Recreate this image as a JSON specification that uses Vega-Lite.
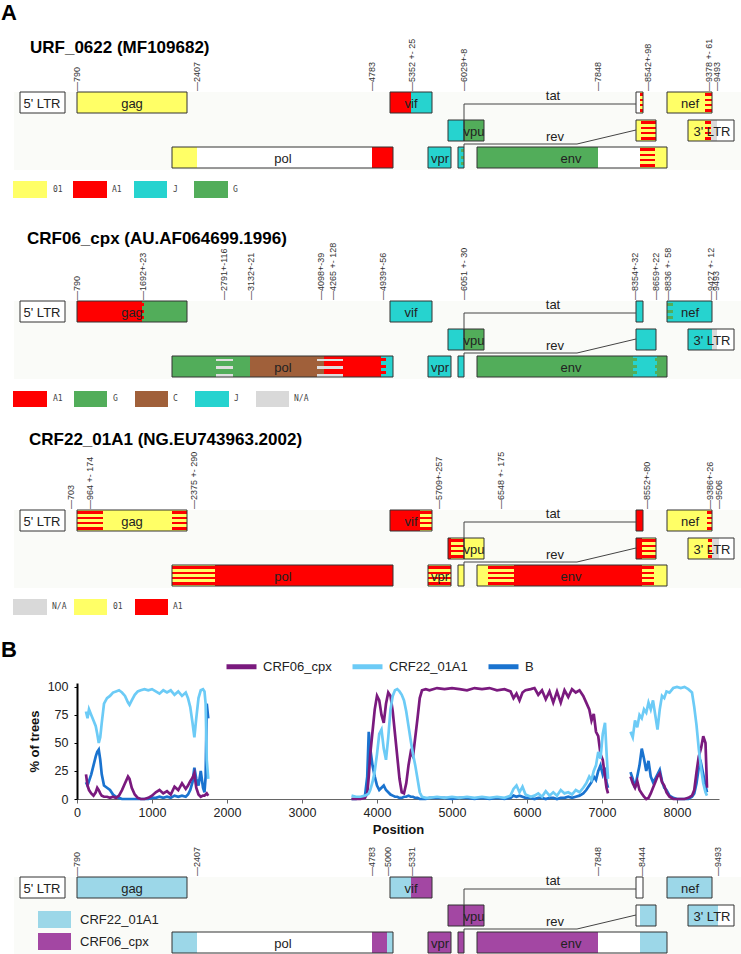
{
"$schema":"https://vega.github.io/schema/vega-lite/v6.json",
"width":741,"height":954,"padding":0,"autosize":{"type":"none"},
"background":"#ffffff",
"config":{"view":{"stroke":null},"font":"Liberation Sans"},
"datasets":{
"tracks":[
{"t":"1a","y1":92,"y2":113,"ym":102.5},{"t":"1b","y1":120,"y2":141,"ym":130.5},{"t":"1c","y1":147,"y2":168,"ym":157.5},{"t":"1L","y1":181,"y2":198,"ym":189.5},{"t":"1bg","y1":92,"y2":170,"ym":131},
{"t":"2a","y1":301,"y2":322,"ym":311.5},{"t":"2b","y1":329,"y2":350,"ym":339.5},{"t":"2c","y1":356,"y2":377,"ym":366.5},{"t":"2L","y1":391,"y2":407,"ym":399},{"t":"2bg","y1":301,"y2":379,"ym":340},
{"t":"3a","y1":510,"y2":531,"ym":520.5},{"t":"3b","y1":538,"y2":559,"ym":548.5},{"t":"3c","y1":565,"y2":586,"ym":575.5},{"t":"3L","y1":599,"y2":615,"ym":607},{"t":"3bg","y1":510,"y2":588,"ym":549},
{"t":"4a","y1":877,"y2":898,"ym":887.5},{"t":"4b","y1":905,"y2":926,"ym":915.5},{"t":"4c","y1":932,"y2":953,"ym":942.5},{"t":"4L1","y1":911,"y2":928,"ym":919.5},{"t":"4L2","y1":933,"y2":950,"ym":941.5},{"t":"4bg","y1":877,"y2":954,"ym":915}
],
"segs":[
{"t":"1bg","x1":14,"x2":741,"c":"BG"},{"t":"2bg","x1":14,"x2":741,"c":"BG"},{"t":"3bg","x1":14,"x2":741,"c":"BG"},{"t":"4bg","x1":14,"x2":741,"c":"BG"},
{"t":"1a","x1":20,"x2":65,"c":"W"},{"t":"1a","x1":77,"x2":187,"c":"Y"},{"t":"1c","x1":172,"x2":197,"c":"Y"},{"t":"1c","x1":197,"x2":372,"c":"W"},{"t":"1c","x1":372,"x2":393,"c":"R"},
{"t":"1a","x1":390,"x2":411,"c":"R"},{"t":"1a","x1":411,"x2":432,"c":"C"},{"t":"1c","x1":428,"x2":451,"c":"C"},{"t":"1b","x1":448,"x2":464,"c":"C"},{"t":"1b","x1":464,"x2":484,"c":"G"},
{"t":"1c","x1":458,"x2":464,"c":"C"},{"t":"1c","x1":477,"x2":598,"c":"G"},{"t":"1c","x1":598,"x2":640,"c":"W"},{"t":"1c","x1":655,"x2":667,"c":"Y"},{"t":"1a","x1":636,"x2":640,"c":"W"},
{"t":"1b","x1":636,"x2":641,"c":"Y"},{"t":"1a","x1":667,"x2":705,"c":"Y"},{"t":"1b","x1":688,"x2":705,"c":"Y"},{"t":"1b","x1":711,"x2":717,"c":"N"},{"t":"1b","x1":717,"x2":734,"c":"W"},
{"t":"2a","x1":20,"x2":65,"c":"W"},{"t":"2a","x1":77,"x2":142,"c":"R"},{"t":"2a","x1":142,"x2":187,"c":"G"},{"t":"2c","x1":172,"x2":250,"c":"G"},{"t":"2c","x1":250,"x2":324,"c":"Br"},
{"t":"2c","x1":324,"x2":381,"c":"R"},{"t":"2c","x1":381,"x2":393,"c":"C"},{"t":"2a","x1":390,"x2":432,"c":"C"},{"t":"2c","x1":428,"x2":451,"c":"C"},{"t":"2b","x1":448,"x2":464,"c":"C"},
{"t":"2b","x1":464,"x2":484,"c":"G"},{"t":"2c","x1":458,"x2":464,"c":"C"},{"t":"2c","x1":477,"x2":633,"c":"G"},{"t":"2c","x1":633,"x2":657,"c":"C"},{"t":"2c","x1":657,"x2":667,"c":"G"},
{"t":"2a","x1":636,"x2":643,"c":"C"},{"t":"2b","x1":636,"x2":656,"c":"C"},{"t":"2a","x1":667,"x2":712,"c":"C"},{"t":"2b","x1":688,"x2":712,"c":"C"},{"t":"2b","x1":712,"x2":717,"c":"N"},{"t":"2b","x1":717,"x2":734,"c":"W"},
{"t":"3a","x1":20,"x2":65,"c":"W"},{"t":"3a","x1":103,"x2":172,"c":"Y"},{"t":"3c","x1":215,"x2":393,"c":"R"},{"t":"3a","x1":390,"x2":420,"c":"R"},{"t":"3b","x1":448,"x2":451,"c":"R"},
{"t":"3b","x1":464,"x2":484,"c":"Y"},{"t":"3c","x1":458,"x2":464,"c":"Y"},{"t":"3c","x1":477,"x2":488,"c":"Y"},{"t":"3c","x1":514,"x2":642,"c":"R"},{"t":"3c","x1":654,"x2":667,"c":"Y"},
{"t":"3a","x1":636,"x2":643,"c":"R"},{"t":"3b","x1":636,"x2":642,"c":"R"},{"t":"3a","x1":667,"x2":707,"c":"Y"},{"t":"3b","x1":688,"x2":708,"c":"Y"},{"t":"3b","x1":712,"x2":719,"c":"N"},{"t":"3b","x1":719,"x2":734,"c":"W"},
{"t":"4a","x1":20,"x2":65,"c":"W"},{"t":"4a","x1":77,"x2":187,"c":"L"},{"t":"4c","x1":172,"x2":197,"c":"L"},{"t":"4c","x1":197,"x2":372,"c":"W"},{"t":"4c","x1":372,"x2":387,"c":"P"},
{"t":"4c","x1":387,"x2":393,"c":"L"},{"t":"4a","x1":390,"x2":411,"c":"L"},{"t":"4a","x1":411,"x2":432,"c":"P"},{"t":"4c","x1":428,"x2":451,"c":"P"},{"t":"4b","x1":448,"x2":464,"c":"P"},
{"t":"4b","x1":464,"x2":484,"c":"P"},{"t":"4c","x1":458,"x2":464,"c":"P"},{"t":"4c","x1":477,"x2":598,"c":"P"},{"t":"4c","x1":598,"x2":640,"c":"W"},{"t":"4c","x1":640,"x2":667,"c":"L"},
{"t":"4a","x1":636,"x2":643,"c":"W"},{"t":"4b","x1":636,"x2":640,"c":"W"},{"t":"4b","x1":640,"x2":656,"c":"L"},{"t":"4a","x1":667,"x2":712,"c":"L"},{"t":"4b","x1":688,"x2":718,"c":"L"},{"t":"4b","x1":718,"x2":734,"c":"W"}
],
"stripes":[
{"t":"1c","x1":640,"x2":655,"p":"ry"},{"t":"1a","x1":640,"x2":643,"p":"ry"},{"t":"1b","x1":641,"x2":656,"p":"ry"},{"t":"1a","x1":705,"x2":712,"p":"ry"},{"t":"1b","x1":705,"x2":711,"p":"ry"},{"t":"1c","x1":461,"x2":464,"p":"gd"},
{"t":"2c","x1":216,"x2":233,"p":"gray"},{"t":"2c","x1":317,"x2":343,"p":"gray"},{"t":"2c","x1":378,"x2":386,"p":"rd"},{"t":"2c","x1":632,"x2":637,"p":"gd"},{"t":"2c","x1":655,"x2":661,"p":"gd"},{"t":"2a","x1":667,"x2":673,"p":"gd"},{"t":"2a","x1":140,"x2":144,"p":"rd"},
{"t":"3a","x1":77,"x2":103,"p":"ry"},{"t":"3a","x1":172,"x2":187,"p":"ry"},{"t":"3c","x1":172,"x2":215,"p":"ry"},{"t":"3a","x1":420,"x2":432,"p":"ry"},{"t":"3c","x1":428,"x2":451,"p":"ry"},{"t":"3b","x1":451,"x2":464,"p":"ry"},
{"t":"3c","x1":488,"x2":514,"p":"ry"},{"t":"3c","x1":642,"x2":654,"p":"ry"},{"t":"3b","x1":642,"x2":656,"p":"ry"},{"t":"3a","x1":707,"x2":712,"p":"ry"},{"t":"3b","x1":708,"x2":712,"p":"ry"}
],
"genes":[
{"t":"1a","x1":20,"x2":65},{"t":"1a","x1":77,"x2":187},{"t":"1c","x1":172,"x2":393},{"t":"1a","x1":390,"x2":432},{"t":"1c","x1":428,"x2":451},{"t":"1b","x1":448,"x2":464},{"t":"1b","x1":464,"x2":484},{"t":"1c","x1":458,"x2":464},{"t":"1c","x1":477,"x2":667},{"t":"1a","x1":636,"x2":643},{"t":"1b","x1":636,"x2":656},{"t":"1a","x1":667,"x2":712},{"t":"1b","x1":688,"x2":734},
{"t":"2a","x1":20,"x2":65},{"t":"2a","x1":77,"x2":187},{"t":"2c","x1":172,"x2":393},{"t":"2a","x1":390,"x2":432},{"t":"2c","x1":428,"x2":451},{"t":"2b","x1":448,"x2":464},{"t":"2b","x1":464,"x2":484},{"t":"2c","x1":458,"x2":464},{"t":"2c","x1":477,"x2":667},{"t":"2a","x1":636,"x2":643},{"t":"2b","x1":636,"x2":656},{"t":"2a","x1":667,"x2":712},{"t":"2b","x1":688,"x2":734},
{"t":"3a","x1":20,"x2":65},{"t":"3a","x1":77,"x2":187},{"t":"3c","x1":172,"x2":393},{"t":"3a","x1":390,"x2":432},{"t":"3c","x1":428,"x2":451},{"t":"3b","x1":448,"x2":464},{"t":"3b","x1":464,"x2":484},{"t":"3c","x1":458,"x2":464},{"t":"3c","x1":477,"x2":667},{"t":"3a","x1":636,"x2":643},{"t":"3b","x1":636,"x2":656},{"t":"3a","x1":667,"x2":712},{"t":"3b","x1":688,"x2":734},
{"t":"4a","x1":20,"x2":65},{"t":"4a","x1":77,"x2":187},{"t":"4c","x1":172,"x2":393},{"t":"4a","x1":390,"x2":432},{"t":"4c","x1":428,"x2":451},{"t":"4b","x1":448,"x2":464},{"t":"4b","x1":464,"x2":484},{"t":"4c","x1":458,"x2":464},{"t":"4c","x1":477,"x2":667},{"t":"4a","x1":636,"x2":643},{"t":"4b","x1":636,"x2":656},{"t":"4a","x1":667,"x2":712},{"t":"4b","x1":688,"x2":734}
],
"glabels":[
{"t":"1a","x1":42,"label":"5' LTR"},{"t":"1a","x1":132,"label":"gag"},{"t":"1c","x1":283,"label":"pol"},{"t":"1a","x1":411,"label":"vif"},{"t":"1c","x1":440,"label":"vpr"},{"t":"1b","x1":474,"label":"vpu"},{"t":"1c","x1":571,"label":"env"},{"t":"1a","x1":690,"label":"nef"},{"t":"1b","x1":712,"label":"3' LTR"},
{"t":"2a","x1":42,"label":"5' LTR"},{"t":"2a","x1":132,"label":"gag"},{"t":"2c","x1":283,"label":"pol"},{"t":"2a","x1":411,"label":"vif"},{"t":"2c","x1":440,"label":"vpr"},{"t":"2b","x1":474,"label":"vpu"},{"t":"2c","x1":571,"label":"env"},{"t":"2a","x1":690,"label":"nef"},{"t":"2b","x1":712,"label":"3' LTR"},
{"t":"3a","x1":42,"label":"5' LTR"},{"t":"3a","x1":132,"label":"gag"},{"t":"3c","x1":283,"label":"pol"},{"t":"3a","x1":411,"label":"vif"},{"t":"3c","x1":440,"label":"vpr"},{"t":"3b","x1":474,"label":"vpu"},{"t":"3c","x1":571,"label":"env"},{"t":"3a","x1":690,"label":"nef"},{"t":"3b","x1":712,"label":"3' LTR"},
{"t":"4a","x1":42,"label":"5' LTR"},{"t":"4a","x1":132,"label":"gag"},{"t":"4c","x1":283,"label":"pol"},{"t":"4a","x1":411,"label":"vif"},{"t":"4c","x1":440,"label":"vpr"},{"t":"4b","x1":474,"label":"vpu"},{"t":"4c","x1":571,"label":"env"},{"t":"4a","x1":690,"label":"nef"},{"t":"4b","x1":712,"label":"3' LTR"}
],
"annot":[
{"x1":553,"y1":96,"label":"tat"},{"x1":555,"y1":137,"label":"rev"},
{"x1":553,"y1":305,"label":"tat"},{"x1":555,"y1":346,"label":"rev"},
{"x1":553,"y1":514,"label":"tat"},{"x1":555,"y1":555,"label":"rev"},
{"x1":553,"y1":881,"label":"tat"},{"x1":555,"y1":922,"label":"rev"}
],
"splice":[
{"id":"1t","o":1,"x1":464,"y1":120},{"id":"1t","o":2,"x1":464,"y1":104},{"id":"1t","o":3,"x1":636,"y1":104},
{"id":"1r","o":1,"x1":464,"y1":147},{"id":"1r","o":2,"x1":464,"y1":144},{"id":"1r","o":3,"x1":577,"y1":144},{"id":"1r","o":4,"x1":636,"y1":130},
{"id":"2t","o":1,"x1":464,"y1":329},{"id":"2t","o":2,"x1":464,"y1":313},{"id":"2t","o":3,"x1":636,"y1":313},
{"id":"2r","o":1,"x1":464,"y1":356},{"id":"2r","o":2,"x1":464,"y1":353},{"id":"2r","o":3,"x1":577,"y1":353},{"id":"2r","o":4,"x1":636,"y1":339},
{"id":"3t","o":1,"x1":464,"y1":538},{"id":"3t","o":2,"x1":464,"y1":522},{"id":"3t","o":3,"x1":636,"y1":522},
{"id":"3r","o":1,"x1":464,"y1":565},{"id":"3r","o":2,"x1":464,"y1":562},{"id":"3r","o":3,"x1":577,"y1":562},{"id":"3r","o":4,"x1":636,"y1":548},
{"id":"4t","o":1,"x1":464,"y1":905},{"id":"4t","o":2,"x1":464,"y1":889},{"id":"4t","o":3,"x1":636,"y1":889},
{"id":"4r","o":1,"x1":464,"y1":932},{"id":"4r","o":2,"x1":464,"y1":929},{"id":"4r","o":3,"x1":577,"y1":929},{"id":"4r","o":4,"x1":636,"y1":915}
],
"ticks":[
{"t":"1a","x1":77,"label":"—790"},{"t":"1a","x1":197,"label":"—2407"},{"t":"1a","x1":372,"label":"—4783"},{"t":"1a","x1":412,"label":"—5352 +- 25"},{"t":"1a","x1":464,"label":"—6029+-8"},{"t":"1a","x1":598,"label":"—7848"},{"t":"1a","x1":648,"label":"—8542+-98"},{"t":"1a","x1":709,"label":"—9378 +- 61"},{"t":"1a","x1":717,"label":"—9493"},
{"t":"2a","x1":77,"label":"—790"},{"t":"2a","x1":143,"label":"—1692+-23"},{"t":"2a","x1":224,"label":"—2791+-116"},{"t":"2a","x1":251,"label":"—3132+-21"},{"t":"2a","x1":321,"label":"—4098+-39"},{"t":"2a","x1":333,"label":"—4265 +- 128"},{"t":"2a","x1":383,"label":"—4939+-56"},{"t":"2a","x1":464,"label":"—6051 +- 30"},{"t":"2a","x1":635,"label":"—8354+-32"},{"t":"2a","x1":656,"label":"—8659+-22"},{"t":"2a","x1":668,"label":"—8836 +- 58"},{"t":"2a","x1":711,"label":"—9427 +- 12"},{"t":"2a","x1":716,"label":"—9493"},
{"t":"3a","x1":71,"label":"—703"},{"t":"3a","x1":90,"label":"—964 +- 174"},{"t":"3a","x1":194,"label":"—2375 +- 290"},{"t":"3a","x1":439,"label":"—5709+-257"},{"t":"3a","x1":501,"label":"—6548 +- 175"},{"t":"3a","x1":647,"label":"—8552+-80"},{"t":"3a","x1":710,"label":"—9386+-26"},{"t":"3a","x1":719,"label":"—9506"},
{"t":"4a","x1":77,"label":"—790"},{"t":"4a","x1":197,"label":"—2407"},{"t":"4a","x1":372,"label":"—4783"},{"t":"4a","x1":388,"label":"—5000"},{"t":"4a","x1":412,"label":"—5331"},{"t":"4a","x1":598,"label":"—7848"},{"t":"4a","x1":642,"label":"—8444"},{"t":"4a","x1":718,"label":"—9493"}
],
"titles":[
{"k":"big","x1":1,"y1":13,"label":"A"},{"k":"big","x1":1,"y1":650,"label":"B"},
{"k":"t","x1":30,"y1":48,"label":"URF_0622 (MF109682)"},{"k":"t","x1":27,"y1":239,"label":"CRF06_cpx (AU.AF064699.1996)"},{"k":"t","x1":29,"y1":440,"label":"CRF22_01A1 (NG.EU743963.2002)"}
],
"leg":[
{"t":"1L","x1":13,"x2":47,"c":"Y","label":"01","lx":53,"k":"s"},{"t":"1L","x1":73,"x2":107,"c":"R","label":"A1","lx":112,"k":"s"},{"t":"1L","x1":134,"x2":167,"c":"C","label":"J","lx":173,"k":"s"},{"t":"1L","x1":194,"x2":228,"c":"G","label":"G","lx":233,"k":"s"},
{"t":"2L","x1":13,"x2":47,"c":"R","label":"A1","lx":53,"k":"s"},{"t":"2L","x1":74,"x2":107,"c":"G","label":"G","lx":113,"k":"s"},{"t":"2L","x1":135,"x2":168,"c":"Br","label":"C","lx":173,"k":"s"},{"t":"2L","x1":195,"x2":229,"c":"C","label":"J","lx":234,"k":"s"},{"t":"2L","x1":256,"x2":289,"c":"N","label":"N/A","lx":294,"k":"s"},
{"t":"3L","x1":13,"x2":47,"c":"N","label":"N/A","lx":52,"k":"s"},{"t":"3L","x1":74,"x2":107,"c":"Y","label":"01","lx":113,"k":"s"},{"t":"3L","x1":135,"x2":168,"c":"R","label":"A1","lx":173,"k":"s"},
{"t":"4L1","x1":38,"x2":71,"c":"L","label":"CRF22_01A1","lx":80,"k":"b"},{"t":"4L2","x1":38,"x2":71,"c":"P","label":"CRF06_cpx","lx":80,"k":"b"}
],
"curves":[
{"g":1,"x":120,"a":78,"b":15,"p":22},{"g":1,"x":140,"a":72,"b":12,"p":12},{"g":1,"x":160,"a":80,"b":16,"p":8},{"g":1,"x":190,"a":75,"b":22,"p":5},{"g":1,"x":220,"a":70,"b":30,"p":3},{"g":1,"x":250,"a":65,"b":38,"p":6},{"g":1,"x":270,"a":58,"b":42,"p":10},{"g":1,"x":290,"a":50,"b":44,"p":8},{"g":1,"x":310,"a":55,"b":35,"p":5},{"g":1,"x":330,"a":68,"b":22,"p":3},{"g":1,"x":360,"a":85,"b":12,"p":2},{"g":1,"x":400,"a":90,"b":10,"p":2},{"g":1,"x":440,"a":92,"b":8,"p":1},{"g":1,"x":480,"a":95,"b":4,"p":2},{"g":1,"x":520,"a":96,"b":2,"p":1},{"g":1,"x":560,"a":97,"b":1,"p":3},{"g":1,"x":600,"a":95,"b":0,"p":8},{"g":1,"x":640,"a":92,"b":0,"p":14},{"g":1,"x":680,"a":86,"b":0,"p":20},{"g":1,"x":700,"a":84,"b":0,"p":18},{"g":1,"x":730,"a":88,"b":0,"p":10},{"g":1,"x":770,"a":93,"b":0,"p":4},{"g":1,"x":810,"a":96,"b":0,"p":1},{"g":1,"x":850,"a":97,"b":0,"p":0},{"g":1,"x":900,"a":98,"b":0,"p":0},{"g":1,"x":950,"a":97,"b":0,"p":1},{"g":1,"x":1000,"a":98,"b":1,"p":3},{"g":1,"x":1050,"a":96,"b":1,"p":6},{"g":1,"x":1100,"a":94,"b":2,"p":8},{"g":1,"x":1150,"a":97,"b":1,"p":5},{"g":1,"x":1200,"a":95,"b":2,"p":7},{"g":1,"x":1250,"a":97,"b":1,"p":4},{"g":1,"x":1300,"a":93,"b":3,"p":11},{"g":1,"x":1350,"a":96,"b":2,"p":8},{"g":1,"x":1400,"a":92,"b":3,"p":14},{"g":1,"x":1450,"a":95,"b":2,"p":9},{"g":1,"x":1480,"a":90,"b":4,"p":12},{"g":1,"x":1510,"a":82,"b":8,"p":16},{"g":1,"x":1540,"a":68,"b":15,"p":19},{"g":1,"x":1565,"a":55,"b":28,"p":23},{"g":1,"x":1590,"a":72,"b":18,"p":10},{"g":1,"x":1620,"a":90,"b":12,"p":4},{"g":1,"x":1650,"a":97,"b":25,"p":2},{"g":1,"x":1680,"a":98,"b":10,"p":3},{"g":1,"x":1700,"a":96,"b":6,"p":3},{"g":1,"x":1715,"a":85,"b":20,"p":4},{"g":1,"x":1730,"a":35,"b":85,"p":5},{"g":1,"x":1750,"a":18,"b":72,"p":3},
{"g":2,"x":3660,"a":3,"b":0,"p":0},{"g":2,"x":3720,"a":2,"b":0,"p":0},{"g":2,"x":3780,"a":2,"b":1,"p":0},{"g":2,"x":3840,"a":3,"b":3,"p":1},{"g":2,"x":3870,"a":4,"b":20,"p":5},{"g":2,"x":3890,"a":5,"b":60,"p":20},{"g":2,"x":3910,"a":8,"b":45,"p":40},{"g":2,"x":3940,"a":15,"b":30,"p":60},{"g":2,"x":3970,"a":25,"b":20,"p":80},{"g":2,"x":4000,"a":40,"b":12,"p":92},{"g":2,"x":4030,"a":58,"b":8,"p":88},{"g":2,"x":4060,"a":62,"b":10,"p":75},{"g":2,"x":4090,"a":45,"b":12,"p":68},{"g":2,"x":4120,"a":35,"b":8,"p":85},{"g":2,"x":4150,"a":55,"b":6,"p":95},{"g":2,"x":4180,"a":80,"b":4,"p":92},{"g":2,"x":4210,"a":92,"b":3,"p":78},{"g":2,"x":4240,"a":97,"b":2,"p":58},{"g":2,"x":4270,"a":98,"b":2,"p":38},{"g":2,"x":4300,"a":96,"b":1,"p":18},{"g":2,"x":4330,"a":93,"b":1,"p":6},{"g":2,"x":4360,"a":88,"b":2,"p":5},{"g":2,"x":4390,"a":78,"b":2,"p":14},{"g":2,"x":4420,"a":65,"b":3,"p":30},{"g":2,"x":4450,"a":52,"b":2,"p":42},{"g":2,"x":4480,"a":40,"b":2,"p":38},{"g":2,"x":4510,"a":30,"b":1,"p":55},{"g":2,"x":4540,"a":18,"b":1,"p":72},{"g":2,"x":4570,"a":6,"b":0,"p":90},{"g":2,"x":4600,"a":2,"b":0,"p":97},{"g":2,"x":4650,"a":1,"b":0,"p":98},{"g":2,"x":4700,"a":1,"b":1,"p":97},{"g":2,"x":4800,"a":2,"b":1,"p":99},{"g":2,"x":4900,"a":1,"b":1,"p":98},{"g":2,"x":5000,"a":2,"b":0,"p":99},{"g":2,"x":5100,"a":1,"b":1,"p":98},{"g":2,"x":5200,"a":2,"b":1,"p":97},{"g":2,"x":5300,"a":1,"b":0,"p":99},{"g":2,"x":5400,"a":2,"b":1,"p":98},{"g":2,"x":5500,"a":1,"b":0,"p":99},{"g":2,"x":5600,"a":2,"b":1,"p":97},{"g":2,"x":5700,"a":1,"b":0,"p":98},{"g":2,"x":5780,"a":3,"b":1,"p":96},{"g":2,"x":5820,"a":9,"b":3,"p":90},{"g":2,"x":5860,"a":12,"b":2,"p":94},{"g":2,"x":5900,"a":6,"b":3,"p":88},{"g":2,"x":5940,"a":11,"b":2,"p":95},{"g":2,"x":5980,"a":4,"b":1,"p":97},{"g":2,"x":6050,"a":2,"b":1,"p":98},{"g":2,"x":6100,"a":3,"b":0,"p":99},{"g":2,"x":6150,"a":5,"b":1,"p":93},{"g":2,"x":6200,"a":2,"b":1,"p":97},{"g":2,"x":6250,"a":7,"b":0,"p":89},{"g":2,"x":6300,"a":3,"b":1,"p":96},{"g":2,"x":6350,"a":6,"b":1,"p":86},{"g":2,"x":6400,"a":3,"b":0,"p":96},{"g":2,"x":6450,"a":8,"b":1,"p":86},{"g":2,"x":6500,"a":5,"b":1,"p":97},{"g":2,"x":6550,"a":6,"b":2,"p":91},{"g":2,"x":6600,"a":4,"b":1,"p":98},{"g":2,"x":6650,"a":8,"b":2,"p":95},{"g":2,"x":6700,"a":6,"b":3,"p":97},{"g":2,"x":6750,"a":10,"b":5,"p":92},{"g":2,"x":6790,"a":14,"b":8,"p":86},{"g":2,"x":6830,"a":20,"b":12,"p":80},{"g":2,"x":6860,"a":17,"b":15,"p":70},{"g":2,"x":6890,"a":25,"b":20,"p":76},{"g":2,"x":6920,"a":30,"b":17,"p":60},{"g":2,"x":6950,"a":42,"b":25,"p":56},{"g":2,"x":6980,"a":36,"b":30,"p":40},{"g":2,"x":7010,"a":58,"b":22,"p":35},{"g":2,"x":7040,"a":68,"b":28,"p":20},{"g":2,"x":7060,"a":42,"b":15,"p":10},{"g":2,"x":7080,"a":18,"b":10,"p":5},
{"g":3,"x":7380,"a":60,"b":24,"p":20},{"g":3,"x":7410,"a":55,"b":18,"p":14},{"g":3,"x":7440,"a":70,"b":10,"p":10},{"g":3,"x":7470,"a":64,"b":20,"p":16},{"g":3,"x":7500,"a":75,"b":30,"p":8},{"g":3,"x":7530,"a":72,"b":45,"p":5},{"g":3,"x":7560,"a":80,"b":36,"p":2},{"g":3,"x":7590,"a":77,"b":25,"p":0},{"g":3,"x":7620,"a":86,"b":34,"p":1},{"g":3,"x":7650,"a":80,"b":20,"p":5},{"g":3,"x":7680,"a":88,"b":15,"p":10},{"g":3,"x":7710,"a":75,"b":18,"p":15},{"g":3,"x":7740,"a":62,"b":22,"p":20},{"g":3,"x":7770,"a":80,"b":26,"p":23},{"g":3,"x":7800,"a":92,"b":16,"p":15},{"g":3,"x":7830,"a":90,"b":10,"p":12},{"g":3,"x":7860,"a":96,"b":8,"p":6},{"g":3,"x":7900,"a":95,"b":3,"p":2},{"g":3,"x":7950,"a":99,"b":1,"p":0},{"g":3,"x":8000,"a":100,"b":0,"p":0},{"g":3,"x":8050,"a":99,"b":0,"p":0},{"g":3,"x":8100,"a":100,"b":0,"p":0},{"g":3,"x":8150,"a":98,"b":0,"p":1},{"g":3,"x":8200,"a":95,"b":2,"p":3},{"g":3,"x":8230,"a":82,"b":5,"p":8},{"g":3,"x":8260,"a":66,"b":14,"p":24},{"g":3,"x":8290,"a":45,"b":28,"p":38},{"g":3,"x":8320,"a":28,"b":32,"p":45},{"g":3,"x":8350,"a":14,"b":22,"p":56},{"g":3,"x":8380,"a":6,"b":12,"p":50},{"g":3,"x":8400,"a":3,"b":6,"p":10}
]
},
"layer":[
{
"layer":[
{"data":{"name":"segs"},"transform":[{"lookup":"t","from":{"data":{"name":"tracks"},"key":"t","fields":["y1","y2"]}}],
 "mark":{"type":"rect"},
 "encoding":{"x":{"field":"x1","type":"quantitative","scale":{"domain":[0,741],"nice":false,"zero":false},"axis":null},"x2":{"field":"x2"},
  "y":{"field":"y1","type":"quantitative","scale":{"domain":[0,954],"reverse":true,"nice":false,"zero":false},"axis":null},"y2":{"field":"y2"},
  "color":{"field":"c","type":"nominal","scale":{"domain":["BG","W","Y","R","C","G","Br","N","L","P"],"range":["#fafbf8","#ffffff","#ffff66","#ff0000","#26d3cf","#52ad5a","#a0603a","#d9d9d9","#9cd7e8","#a347a3"]},"legend":null}}},
{"data":{"name":"stripes"},"transform":[{"filter":"datum.p == 'ry'"},{"lookup":"t","from":{"data":{"name":"tracks"},"key":"t","fields":["y1","y2"]}}],
 "mark":{"type":"rect","fill":{"gradient":"linear","x1":0,"y1":0,"x2":0,"y2":1,"stops":[{"offset":0,"color":"#ffff66"},{"offset":0.06,"color":"#ffff66"},{"offset":0.06,"color":"#ff0000"},{"offset":0.18,"color":"#ff0000"},{"offset":0.18,"color":"#ffff66"},{"offset":0.32,"color":"#ffff66"},{"offset":0.32,"color":"#ff0000"},{"offset":0.44,"color":"#ff0000"},{"offset":0.44,"color":"#ffff66"},{"offset":0.56,"color":"#ffff66"},{"offset":0.56,"color":"#ff0000"},{"offset":0.68,"color":"#ff0000"},{"offset":0.68,"color":"#ffff66"},{"offset":0.82,"color":"#ffff66"},{"offset":0.82,"color":"#ff0000"},{"offset":0.94,"color":"#ff0000"},{"offset":0.94,"color":"#ffff66"},{"offset":1,"color":"#ffff66"}]}},
 "encoding":{"x":{"field":"x1","type":"quantitative","scale":{"domain":[0,741],"nice":false,"zero":false},"axis":null},"x2":{"field":"x2"},
  "y":{"field":"y1","type":"quantitative","scale":{"domain":[0,954],"reverse":true,"nice":false,"zero":false},"axis":null},"y2":{"field":"y2"}}},
{"data":{"name":"stripes"},"transform":[{"filter":"datum.p == 'gray'"},{"lookup":"t","from":{"data":{"name":"tracks"},"key":"t","fields":["y1","y2"]}}],
 "mark":{"type":"rect","fill":{"gradient":"linear","x1":0,"y1":0,"x2":0,"y2":1,"stops":[{"offset":0,"color":"rgba(255,255,255,0)"},{"offset":0.12,"color":"rgba(255,255,255,0)"},{"offset":0.12,"color":"#dedede"},{"offset":0.26,"color":"#dedede"},{"offset":0.26,"color":"rgba(255,255,255,0)"},{"offset":0.47,"color":"rgba(255,255,255,0)"},{"offset":0.47,"color":"#dedede"},{"offset":0.62,"color":"#dedede"},{"offset":0.62,"color":"rgba(255,255,255,0)"},{"offset":0.85,"color":"rgba(255,255,255,0)"},{"offset":0.85,"color":"#dedede"},{"offset":0.98,"color":"#dedede"},{"offset":0.98,"color":"rgba(255,255,255,0)"},{"offset":1,"color":"rgba(255,255,255,0)"}]}},
 "encoding":{"x":{"field":"x1","type":"quantitative","scale":{"domain":[0,741],"nice":false,"zero":false},"axis":null},"x2":{"field":"x2"},
  "y":{"field":"y1","type":"quantitative","scale":{"domain":[0,954],"reverse":true,"nice":false,"zero":false},"axis":null},"y2":{"field":"y2"}}},
{"data":{"name":"stripes"},"transform":[{"filter":"datum.p == 'gd'"},{"lookup":"t","from":{"data":{"name":"tracks"},"key":"t","fields":["y1","y2"]}}],
 "mark":{"type":"rect","fill":{"gradient":"linear","x1":0,"y1":0,"x2":0,"y2":1,"stops":[{"offset":0,"color":"rgba(255,255,255,0)"},{"offset":0.1,"color":"rgba(255,255,255,0)"},{"offset":0.1,"color":"#52ad5a"},{"offset":0.25,"color":"#52ad5a"},{"offset":0.25,"color":"rgba(255,255,255,0)"},{"offset":0.42,"color":"rgba(255,255,255,0)"},{"offset":0.42,"color":"#52ad5a"},{"offset":0.57,"color":"#52ad5a"},{"offset":0.57,"color":"rgba(255,255,255,0)"},{"offset":0.72,"color":"rgba(255,255,255,0)"},{"offset":0.72,"color":"#52ad5a"},{"offset":0.87,"color":"#52ad5a"},{"offset":0.87,"color":"rgba(255,255,255,0)"},{"offset":1,"color":"rgba(255,255,255,0)"}]}},
 "encoding":{"x":{"field":"x1","type":"quantitative","scale":{"domain":[0,741],"nice":false,"zero":false},"axis":null},"x2":{"field":"x2"},
  "y":{"field":"y1","type":"quantitative","scale":{"domain":[0,954],"reverse":true,"nice":false,"zero":false},"axis":null},"y2":{"field":"y2"}}},
{"data":{"name":"stripes"},"transform":[{"filter":"datum.p == 'rd'"},{"lookup":"t","from":{"data":{"name":"tracks"},"key":"t","fields":["y1","y2"]}}],
 "mark":{"type":"rect","fill":{"gradient":"linear","x1":0,"y1":0,"x2":0,"y2":1,"stops":[{"offset":0,"color":"rgba(255,255,255,0)"},{"offset":0.1,"color":"rgba(255,255,255,0)"},{"offset":0.1,"color":"#ff0000"},{"offset":0.25,"color":"#ff0000"},{"offset":0.25,"color":"rgba(255,255,255,0)"},{"offset":0.42,"color":"rgba(255,255,255,0)"},{"offset":0.42,"color":"#ff0000"},{"offset":0.57,"color":"#ff0000"},{"offset":0.57,"color":"rgba(255,255,255,0)"},{"offset":0.72,"color":"rgba(255,255,255,0)"},{"offset":0.72,"color":"#ff0000"},{"offset":0.87,"color":"#ff0000"},{"offset":0.87,"color":"rgba(255,255,255,0)"},{"offset":1,"color":"rgba(255,255,255,0)"}]}},
 "encoding":{"x":{"field":"x1","type":"quantitative","scale":{"domain":[0,741],"nice":false,"zero":false},"axis":null},"x2":{"field":"x2"},
  "y":{"field":"y1","type":"quantitative","scale":{"domain":[0,954],"reverse":true,"nice":false,"zero":false},"axis":null},"y2":{"field":"y2"}}},
{"data":{"name":"genes"},"transform":[{"lookup":"t","from":{"data":{"name":"tracks"},"key":"t","fields":["y1","y2"]}}],
 "mark":{"type":"rect","filled":false,"color":"#333333","strokeWidth":1},
 "encoding":{"x":{"field":"x1","type":"quantitative","scale":{"domain":[0,741],"nice":false,"zero":false},"axis":null},"x2":{"field":"x2"},
  "y":{"field":"y1","type":"quantitative","scale":{"domain":[0,954],"reverse":true,"nice":false,"zero":false},"axis":null},"y2":{"field":"y2"}}},
{"data":{"name":"splice"},
 "mark":{"type":"line","color":"#444444","strokeWidth":1},
 "encoding":{"x":{"field":"x1","type":"quantitative","scale":{"domain":[0,741],"nice":false,"zero":false},"axis":null},
  "y":{"field":"y1","type":"quantitative","scale":{"domain":[0,954],"reverse":true,"nice":false,"zero":false},"axis":null},
  "detail":{"field":"id"},"order":{"field":"o"}}},
{"data":{"name":"glabels"},"transform":[{"lookup":"t","from":{"data":{"name":"tracks"},"key":"t","fields":["ym"]}}],
 "mark":{"type":"text","font":"Liberation Sans","fontSize":13,"color":"#222222","align":"center","baseline":"middle","dy":1},
 "encoding":{"x":{"field":"x1","type":"quantitative","scale":{"domain":[0,741],"nice":false,"zero":false},"axis":null},
  "y":{"field":"ym","type":"quantitative","scale":{"domain":[0,954],"reverse":true,"nice":false,"zero":false},"axis":null},"text":{"field":"label"}}},
{"data":{"name":"annot"},
 "mark":{"type":"text","font":"Liberation Sans","fontSize":13,"color":"#222222","align":"center","baseline":"middle"},
 "encoding":{"x":{"field":"x1","type":"quantitative","scale":{"domain":[0,741],"nice":false,"zero":false},"axis":null},
  "y":{"field":"y1","type":"quantitative","scale":{"domain":[0,954],"reverse":true,"nice":false,"zero":false},"axis":null},"text":{"field":"label"}}},
{"data":{"name":"ticks"},"transform":[{"lookup":"t","from":{"data":{"name":"tracks"},"key":"t","fields":["y1"]}}],
 "mark":{"type":"text","font":"Liberation Sans","fontSize":9,"color":"#333333","align":"left","baseline":"middle","angle":270,"dx":1},
 "encoding":{"x":{"field":"x1","type":"quantitative","scale":{"domain":[0,741],"nice":false,"zero":false},"axis":null},
  "y":{"field":"y1","type":"quantitative","scale":{"domain":[0,954],"reverse":true,"nice":false,"zero":false},"axis":null},"text":{"field":"label"}}},
{"data":{"name":"titles"},"transform":[{"filter":"datum.k == 'big'"}],
 "mark":{"type":"text","font":"Liberation Sans","fontSize":22,"fontWeight":"bold","color":"#000000","align":"left","baseline":"middle"},
 "encoding":{"x":{"field":"x1","type":"quantitative","scale":{"domain":[0,741],"nice":false,"zero":false},"axis":null},
  "y":{"field":"y1","type":"quantitative","scale":{"domain":[0,954],"reverse":true,"nice":false,"zero":false},"axis":null},"text":{"field":"label"}}},
{"data":{"name":"titles"},"transform":[{"filter":"datum.k == 't'"}],
 "mark":{"type":"text","font":"Liberation Sans","fontSize":17,"fontWeight":"bold","color":"#000000","align":"left","baseline":"middle"},
 "encoding":{"x":{"field":"x1","type":"quantitative","scale":{"domain":[0,741],"nice":false,"zero":false},"axis":null},
  "y":{"field":"y1","type":"quantitative","scale":{"domain":[0,954],"reverse":true,"nice":false,"zero":false},"axis":null},"text":{"field":"label"}}},
{"data":{"name":"leg"},"transform":[{"lookup":"t","from":{"data":{"name":"tracks"},"key":"t","fields":["y1","y2"]}}],
 "mark":{"type":"rect"},
 "encoding":{"x":{"field":"x1","type":"quantitative","scale":{"domain":[0,741],"nice":false,"zero":false},"axis":null},"x2":{"field":"x2"},
  "y":{"field":"y1","type":"quantitative","scale":{"domain":[0,954],"reverse":true,"nice":false,"zero":false},"axis":null},"y2":{"field":"y2"},
  "color":{"field":"c","type":"nominal","scale":{"domain":["BG","W","Y","R","C","G","Br","N","L","P"],"range":["#fafbf8","#ffffff","#ffff66","#ff0000","#26d3cf","#52ad5a","#a0603a","#d9d9d9","#9cd7e8","#a347a3"]},"legend":null}}},
{"data":{"name":"leg"},"transform":[{"filter":"datum.k == 's'"},{"lookup":"t","from":{"data":{"name":"tracks"},"key":"t","fields":["ym"]}}],
 "mark":{"type":"text","font":"DejaVu Sans Mono","fontSize":8,"color":"#444444","align":"left","baseline":"middle"},
 "encoding":{"x":{"field":"lx","type":"quantitative","scale":{"domain":[0,741],"nice":false,"zero":false},"axis":null},
  "y":{"field":"ym","type":"quantitative","scale":{"domain":[0,954],"reverse":true,"nice":false,"zero":false},"axis":null},"text":{"field":"label"}}},
{"data":{"name":"leg"},"transform":[{"filter":"datum.k == 'b'"},{"lookup":"t","from":{"data":{"name":"tracks"},"key":"t","fields":["ym"]}}],
 "mark":{"type":"text","font":"Liberation Sans","fontSize":13,"color":"#222222","align":"left","baseline":"middle"},
 "encoding":{"x":{"field":"lx","type":"quantitative","scale":{"domain":[0,741],"nice":false,"zero":false},"axis":null},
  "y":{"field":"ym","type":"quantitative","scale":{"domain":[0,954],"reverse":true,"nice":false,"zero":false},"axis":null},"text":{"field":"label"}}}
]
},
{
"data":{"name":"curves"},
"encoding":{
 "x":{"field":"x","type":"quantitative","scale":{"domain":[0,8560],"range":[77,719],"nice":false,"zero":false},
  "axis":{"orient":"bottom","offset":-155,"values":[0,1000,2000,3000,4000,5000,6000,7000,8000],"format":"d","title":"Position","titleFontSize":13,"titleFontWeight":"bold","titleColor":"#111111","titleFont":"Liberation Sans","labelFont":"Liberation Sans","labelFontSize":12.5,"labelColor":"#222222","domainColor":"#666666","tickColor":"#666666","tickSize":4,"labelPadding":3,"titlePadding":5,"grid":false,"labelFlush":false}}
},
"layer":[
 {"data":{"values":[{}]},"mark":{"type":"rule","color":"#aaaaaa","strokeWidth":1},
  "encoding":{"x":{"datum":0,"type":"quantitative"},"x2":{"datum":8560},"y":{"datum":103.5,"type":"quantitative","scale":{"domain":[0,103.5],"range":[799,683],"nice":false,"zero":false},"axis":{"orient":"left","offset":-77,"values":[0,25,50,75,100],"title":"% of trees","titleFontSize":13,"titleFontWeight":"bold","titleColor":"#111111","titleFont":"Liberation Sans","labelFont":"Liberation Sans","labelFontSize":12.5,"labelColor":"#222222","domainColor":"#000000","domainWidth":2,"tickColor":"#000000","tickSize":3,"labelPadding":6,"titlePadding":6,"grid":false}}}},
 {"data":{"values":[{}]},"mark":{"type":"rule","color":"#aaaaaa","strokeWidth":1},
  "encoding":{"x":{"datum":8560,"type":"quantitative"},"y":{"datum":0,"type":"quantitative","scale":{"domain":[0,103.5],"range":[799,683],"nice":false,"zero":false},"axis":{"orient":"left","offset":-77,"values":[0,25,50,75,100],"title":"% of trees","titleFontSize":13,"titleFontWeight":"bold","titleColor":"#111111","titleFont":"Liberation Sans","labelFont":"Liberation Sans","labelFontSize":12.5,"labelColor":"#222222","domainColor":"#000000","domainWidth":2,"tickColor":"#000000","tickSize":3,"labelPadding":6,"titlePadding":6,"grid":false}},"y2":{"datum":103.5}}},
 {"mark":{"type":"line","strokeWidth":2.7},
  "encoding":{"y":{"field":"b","type":"quantitative","scale":{"domain":[0,103.5],"range":[799,683],"nice":false,"zero":false},"axis":{"orient":"left","offset":-77,"values":[0,25,50,75,100],"title":"% of trees","titleFontSize":13,"titleFontWeight":"bold","titleColor":"#111111","titleFont":"Liberation Sans","labelFont":"Liberation Sans","labelFontSize":12.5,"labelColor":"#222222","domainColor":"#000000","domainWidth":2,"tickColor":"#000000","tickSize":3,"labelPadding":6,"titlePadding":6,"grid":false}},
   "detail":{"field":"g"},
   "color":{"datum":"B","type":"nominal","scale":{"domain":["CRF06_cpx","CRF22_01A1","B"],"range":["#7a1a7e","#6ccbf6","#1a73cf"]},
    "legend":{"orient":"none","legendX":224,"legendY":649,"direction":"horizontal","title":null,"symbolType":"stroke","symbolStrokeWidth":5,"symbolSize":900,"labelFontSize":13,"labelFont":"Liberation Sans","labelColor":"#222222","columnPadding":10,"padding":0,"labelOffset":4}}}},
 {"mark":{"type":"line","strokeWidth":2.7},
  "encoding":{"y":{"field":"p","type":"quantitative","scale":{"domain":[0,103.5],"range":[799,683],"nice":false,"zero":false},"axis":{"orient":"left","offset":-77,"values":[0,25,50,75,100],"title":"% of trees","titleFontSize":13,"titleFontWeight":"bold","titleColor":"#111111","titleFont":"Liberation Sans","labelFont":"Liberation Sans","labelFontSize":12.5,"labelColor":"#222222","domainColor":"#000000","domainWidth":2,"tickColor":"#000000","tickSize":3,"labelPadding":6,"titlePadding":6,"grid":false}},
   "detail":{"field":"g"},
   "color":{"datum":"CRF06_cpx","type":"nominal","scale":{"domain":["CRF06_cpx","CRF22_01A1","B"],"range":["#7a1a7e","#6ccbf6","#1a73cf"]}}}},
 {"mark":{"type":"line","strokeWidth":2.7},
  "encoding":{"y":{"field":"a","type":"quantitative","scale":{"domain":[0,103.5],"range":[799,683],"nice":false,"zero":false},"axis":{"orient":"left","offset":-77,"values":[0,25,50,75,100],"title":"% of trees","titleFontSize":13,"titleFontWeight":"bold","titleColor":"#111111","titleFont":"Liberation Sans","labelFont":"Liberation Sans","labelFontSize":12.5,"labelColor":"#222222","domainColor":"#000000","domainWidth":2,"tickColor":"#000000","tickSize":3,"labelPadding":6,"titlePadding":6,"grid":false}},
   "detail":{"field":"g"},
   "color":{"datum":"CRF22_01A1","type":"nominal","scale":{"domain":["CRF06_cpx","CRF22_01A1","B"],"range":["#7a1a7e","#6ccbf6","#1a73cf"]}}}}
]
}
],
"resolve":{"scale":{"x":"independent","y":"independent","color":"independent"},"axis":{"x":"independent","y":"independent"},"legend":{"color":"independent"}}
}
